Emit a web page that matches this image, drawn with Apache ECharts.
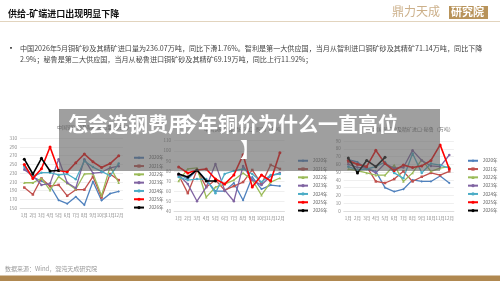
<!DOCTYPE html>
<html>
<head>
<meta charset="utf-8">
<script src="https://cdn.jsdelivr.net/npm/echarts@6/dist/echarts.min.js"></script>
<style>
  html, body { margin: 0; padding: 0; background: #fff; }
  #main { width: 500px; height: 281px; }
</style>
</head>
<body>
<div id="main"></div>
<script>
const months = ['1月', '2月', '3月', '4月', '5月', '6月', '7月', '8月', '9月', '10月', '11月', '12月']
const years = ['2020年', '2021年', '2022年', '2023年', '2024年', '2025年', '2026年']

// 铜矿砂及精矿进口量（万吨），按年份排列
const totalImport = [
  [242, 221, 212, 201, 168, 160, 176, 157, 211, 167, 183, 188],
  [197, 181, 218, 200, 203, 178, 192, 192, 222, 174, 228, 214],
  [208, 208, 218, 191, 222, 207, 193, 228, 229, 178, 245, 208],
  [238, 224, 203, 206, 262, 208, 196, 262, 230, 232, 242, 246],
  [246, 222, 231, 231, 226, 228, 216, 258, 244, 234, 224, 252],
  [250, 218, 240, 290, 236, 233, 254, 274, 256, 243, 252, 270],
  [262, 228, 264, 235, 236]
]

// 从智利进口（万吨）
const chileImport = [
  [77, 72, 81, 71, 60, 60, 68, 51, 74, 62, 66, 65],
  [76, 58, 81, 64, 71, 61, 65, 69, 81, 67, 86, 82],
  [70, 82, 83, 54, 64, 67, 71, 78, 71, 56, 69, 73],
  [76, 67, 50, 64, 87, 61, 50, 85, 71, 66, 75, 78],
  [74, 71, 72, 72, 58, 77, 80, 82, 77, 69, 76, 77],
  [84, 78, 81, 82, 72, 67, 76, 96, 64, 76, 70, 98],
  [77, 74, 81, 70, 70]
]

// 从秘鲁进口（万吨）
const peruImport = [
  [66, 63, 54, 51, 30, 25, 28, 40, 38, 38, 45, 36],
  [63, 60, 57, 38, 36, 41, 51, 38, 44, 49, 46, 51],
  [54, 52, 49, 46, 46, 59, 38, 49, 66, 51, 55, 57],
  [60, 56, 55, 49, 61, 55, 56, 78, 65, 58, 57, 72],
  [57, 53, 54, 57, 63, 49, 42, 74, 49, 61, 59, 55],
  [65, 60, 57, 78, 61, 52, 59, 56, 58, 65, 85, 54],
  [68, 49, 65, 57, 69]
]

const colors = ['#4f81bd', '#c0504d', '#9bbb59', '#8064a2', '#4bacc6', '#ff0000', '#000000']
const symbols = ['diamond', 'rect', 'triangle', 'circle', 'circle', 'circle', 'circle']
const FONT = '"Noto Sans CJK SC", "Noto Sans", sans-serif'

const chart = echarts.init(document.getElementById('main'))

const grids = [
  { left: 20, width: 103, top: 138.3, height: 69.7 },
  { left: 174, width: 110.5, top: 140.7, height: 70.6 },
  { left: 343.7, width: 110.2, top: 141, height: 70 }
]
const yRanges = [
  { min: 150, max: 310, interval: 20 },
  { min: 40, max: 110, interval: 10 },
  { min: 0, max: 90, interval: 10 }
]
const datasets = [totalImport, chileImport, peruImport]
const legendPos = [
  { left: 128, top: 150.5 },
  { left: 292, top: 153.5 },
  { left: 462, top: 153.5 }
]

const axisText = { color: '#888', fontSize: 4.5, fontFamily: FONT }

const xAxis = grids.map((g, i) => ({
  type: 'category',
  gridIndex: i,
  data: months,
  axisLine: { lineStyle: { color: '#d0d0d0', width: 0.6 } },
  axisTick: { show: false },
  axisLabel: { ...axisText, margin: 5, interval: 0 }
}))

const yAxis = yRanges.map((r, i) => ({
  type: 'value',
  gridIndex: i,
  min: r.min,
  max: r.max,
  interval: r.interval,
  axisLine: { show: false },
  axisTick: { show: false },
  axisLabel: { ...axisText, margin: 3 },
  splitLine: { lineStyle: { color: '#e4e4e4', width: 0.6 } }
}))

const series = []
datasets.forEach((set, ci) => {
  set.forEach((vals, yi) => {
    const bold = yi >= 5
    series.push({
      name: years[yi],
      type: 'line',
      xAxisIndex: ci,
      yAxisIndex: ci,
      data: vals,
      symbol: symbols[yi],
      symbolSize: bold ? 3 : 2.5,
      showAllSymbol: true,
      lineStyle: { color: colors[yi], width: bold ? 1.6 : 1.3 },
      itemStyle: { color: colors[yi] },
      z: 2 + yi
    })
  })
})

const legend = legendPos.map(p => ({
  orient: 'vertical',
  left: p.left,
  top: p.top,
  data: years,
  itemWidth: 10,
  itemHeight: 4,
  itemGap: 3.8,
  selectedMode: false,
  textStyle: { color: '#555', fontSize: 4.5, fontFamily: FONT, lineHeight: 4 }
}))

const titles = [
  { text: '中国铜矿砂及精矿进口量（万吨）', left: 57, top: 125 },
  { text: '中国铜矿砂及精矿进口-智利（万吨）', left: 204, top: 127 },
  { text: '中国铜矿砂及精矿进口-秘鲁（万吨）', left: 372, top: 127 }
].map(t => ({
  type: 'text', left: t.left, top: t.top, z: 5,
  style: { text: t.text, fill: '#777', font: '5px ' + FONT }
}))

chart.setOption({
  animation: false,
  backgroundColor: '#fff',
  grid: grids,
  xAxis: xAxis,
  yAxis: yAxis,
  legend: legend,
  series: series,
  graphic: [
    { type: 'text', left: 8, top: 9, style: { text: '供给-矿端进口出现明显下降', fill: '#111', font: 'bold 9px ' + FONT } },
    { type: 'text', left: 392, top: 5, style: { text: '鼎力天成', fill: '#ccb08a', font: '12px ' + FONT } },
    { type: 'rect', left: 449, top: 6, shape: { width: 39, height: 13 }, style: { fill: '#b8935a' } },
    { type: 'text', left: 451, top: 6.5, style: { text: '研究院', fill: '#fff', font: 'bold 11px ' + FONT } },
    { type: 'rect', left: 0, top: 21, shape: { width: 500, height: 0.8 }, style: { fill: '#d9c6a8' } },
    { type: 'text', left: 8, top: 45, style: { text: '▪', fill: '#333', font: '6px ' + FONT } },
    { type: 'text', left: 20, top: 45, style: { text: '中国2026年5月铜矿砂及其精矿进口量为236.07万吨，同比下滑1.76%。智利是第一大供应国，当月从智利进口铜矿砂及其精矿71.14万吨，同比下降', fill: '#444', font: '7.1px ' + FONT } },
    { type: 'text', left: 20, top: 56, style: { text: '2.9%；秘鲁是第二大供应国，当月从秘鲁进口铜矿砂及其精矿69.19万吨，同比上行11.92%；', fill: '#444', font: '7.1px ' + FONT } },
    ...titles,
    { type: 'rect', left: 59, top: 109, z: 100, shape: { width: 381, height: 62 }, style: { fill: 'rgba(95,95,95,0.6)' } },
    { type: 'text', left: 68, top: 114, z: 101, style: { text: '怎会选钢费用', fill: '#fff', font: 'bold 20px ' + FONT } },
    { type: 'text', left: 178, top: 114, z: 101, style: { text: '今年铜价为什么一直高位', fill: '#fff', font: 'bold 20px ' + FONT } },
    { type: 'text', left: 240, top: 139, z: 101, style: { text: '】', fill: '#fff', font: 'bold 20px ' + FONT } },
    { type: 'text', left: 5, top: 266, style: { text: '数据来源：Wind，混沌天成研究院', fill: '#999', font: '6px ' + FONT } },
    { type: 'rect', left: 0, top: 275.5, shape: { width: 500, height: 6 }, style: { fill: '#b08850' } }
  ]
})
</script>
</body>
</html>
